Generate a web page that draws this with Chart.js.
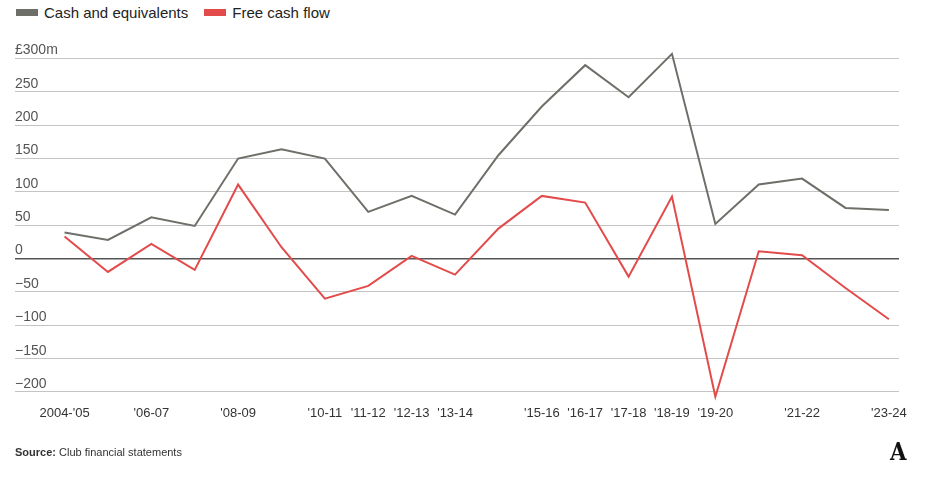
<!DOCTYPE html>
<html lang="en">
<head>
  <meta charset="UTF-8" />
  <title>Cash and free cash flow</title>
  <script src="https://cdn.jsdelivr.net/npm/chart.js"></script>
  <style>
    html, body { margin: 0; padding: 0; background: #fff; }
    body { width: 925px; height: 481px; position: relative; overflow: hidden; font-family: "Liberation Sans", Arial, sans-serif; }
    .legend { position: absolute; top: 4px; left: 16px; font-size: 15px; color: #222; display: flex; align-items: center; }
    .legend span.sw { display: inline-block; width: 22px; height: 7px; margin-right: 6px; }
    .legend .item { display: flex; align-items: center; margin-right: 16px; }
    #wrap { position: absolute; left: 0; top: 0; width: 925px; height: 481px; }
    .source { position: absolute; left: 15px; top: 446px; font-size: 11px; color: #333; }
    .logo { position: absolute; left: 890px; top: 437px; font-family: "DejaVu Serif", serif; font-weight: bold; font-size: 25px; color: #111; transform: scaleX(0.85); transform-origin: left top; }
  </style>
</head>
<body>
  <div class="legend">
    <div class="item"><span class="sw" style="background:#6f6f69"></span>Cash and equivalents</div>
    <div class="item"><span class="sw" style="background:#e34b4b"></span>Free cash flow</div>
  </div>
  <div id="wrap"><canvas id="cashChart"></canvas></div>
  <div class="source"><b>Source:</b> Club financial statements</div>
  <div class="logo">A</div>

  <script>
    // seasons 2004-05 .. 2023-24
    const seasons = ["2004-05", "2005-06", "2006-07", "2007-08", "2008-09", "2009-10", "2010-11", "2011-12",
      "2012-13", "2013-14", "2014-15", "2015-16", "2016-17", "2017-18", "2018-19", "2019-20",
      "2020-21", "2021-22", "2022-23", "2023-24"];
    const tickLabels = ["2004-'05", "", "'06-07", "", "'08-09", "", "'10-11", "'11-12",
      "'12-13", "'13-14", "", "'15-16", "'16-17", "'17-18", "'18-19", "'19-20",
      "", "'21-22", "", "'23-24"];
    const cashValues = [39, 28, 62, 49, 150, 164, 150, 70, 94, 66, 155, 228, 290, 242, 307, 52, 111, 120, 76, 73];
    const fcfValues = [33, -20, 22, -17, 111, 17, -60, -41, 4, -24, 45, 94, 84, -27, 93, -207, 11, 5, -44, -91];
    const yTicks = [-200, -150, -100, -50, 0, 50, 100, 150, 200, 250, 300];

    const toPoints = arr => arr.map((v, i) => ({ x: i, y: v }));

    const ctx = document.getElementById('cashChart').getContext('2d');
    new Chart(ctx, {
      type: 'line',
      data: {
        datasets: [
          {
            label: 'Cash and equivalents',
            data: toPoints(cashValues),
            borderColor: '#6f6f69',
            borderWidth: 2,
            pointRadius: 0,
            tension: 0,
            clip: false
          },
          {
            label: 'Free cash flow',
            data: toPoints(fcfValues),
            borderColor: '#e34b4b',
            borderWidth: 2,
            pointRadius: 0,
            tension: 0,
            clip: false
          }
        ]
      },
      options: {
        responsive: true,
        maintainAspectRatio: false,
        animation: false,
        layout: { padding: { left: 15, right: 26, top: 50.5, bottom: 51 } },
        plugins: { legend: { display: false }, tooltip: { enabled: false } },
        scales: {
          x: {
            type: 'linear',
            min: -1.142,
            max: 19.233,
            grid: { display: false, drawTicks: false },
            border: { display: false },
            afterBuildTicks: scale => { scale.ticks = tickLabels.map((t, i) => ({ value: i })).filter((t, i) => tickLabels[i] !== ''); },
            afterFit: scale => { scale.height = 30; },
            ticks: {
              autoSkip: false,
              maxRotation: 0,
              padding: 6,
              color: '#333',
              font: { family: 'Liberation Sans', size: 13 },
              callback: v => tickLabels[v]
            }
          },
          y: {
            min: -212,
            max: 312,
            border: { display: false },
            grid: {
              drawTicks: false,
              color: c => (c.tick && c.tick.value === 0) ? '#555' : '#c4c4c4',
              lineWidth: c => (c.tick && c.tick.value === 0) ? 1.5 : 1
            },
            afterBuildTicks: scale => { scale.ticks = yTicks.map(v => ({ value: v })); },
            afterFit: scale => { scale.width = 0; },
            ticks: {
              mirror: true,
              padding: 0,
              labelOffset: -8,
              color: '#555',
              font: { family: 'Liberation Sans', size: 14 },
              callback: v => v === 300 ? '£300m' : (v < 0 ? '\u2212' + Math.abs(v) : String(v))
            }
          }
        }
      }
    });
  </script>
</body>
</html>
